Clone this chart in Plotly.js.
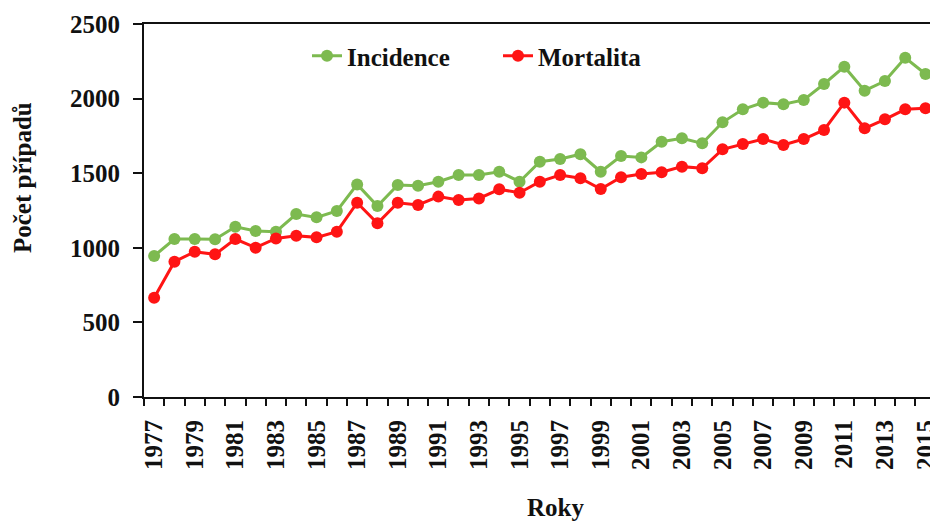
<!DOCTYPE html>
<html>
<head>
<meta charset="utf-8">
<script src="https://cdn.plot.ly/plotly-3.0.1.min.js"></script>
<style>
html, body { margin: 0; padding: 0; overflow: hidden; background: #fff; }
#chart { width: 930px; height: 521px; }
</style>
</head>
<body>
<div id="chart"></div>
<script>
// Data
const years = [1977,1978,1979,1980,1981,1982,1983,1984,1985,1986,1987,1988,1989,1990,1991,1992,1993,1994,1995,1996,1997,1998,1999,2000,2001,2002,2003,2004,2005,2006,2007,2008,2009,2010,2011,2012,2013,2014,2015];
const incidence = [945,1059,1059,1057,1141,1113,1108,1226,1204,1247,1425,1280,1421,1416,1443,1488,1488,1510,1443,1577,1595,1627,1510,1615,1606,1711,1734,1700,1841,1928,1973,1962,1991,2098,2214,2053,2118,2274,2165];
const mortalita = [665,907,974,956,1059,1001,1063,1081,1070,1108,1302,1164,1302,1287,1343,1320,1331,1392,1369,1443,1488,1466,1394,1473,1495,1506,1544,1533,1660,1696,1729,1689,1729,1790,1973,1801,1861,1928,1935];
const xTickYears = [1977,1979,1981,1983,1985,1987,1989,1991,1993,1995,1997,1999,2001,2003,2005,2007,2009,2011,2013,2015];
const seriesNames = ['Incidence', 'Mortalita'];
const yTitle = 'Počet případů';
const xTitle = 'Roky';

const GREEN = 'rgb(125,186,80)';
const RED = 'rgb(255,20,20)';
const FONT = 'Liberation Serif, Times New Roman, serif';

const W = 930, H = 521;
const L = 144, R = 0, T = 24, B = 124;
const pw = W - L - R, ph = H - T - B;
const px = x => (x - L) / pw;
const py = y => (H - B - y) / ph;

const traces = [
  { x: years, y: incidence, name: seriesNames[0], type: 'scatter', mode: 'lines+markers',
    line: { color: GREEN, width: 3 }, marker: { color: GREEN, size: 12 } },
  { x: years, y: mortalita, name: seriesNames[1], type: 'scatter', mode: 'lines+markers',
    line: { color: RED, width: 3 }, marker: { color: RED, size: 12 } }
];

const layout = {
  width: W, height: H,
  margin: { l: L, r: R, t: T, b: B, pad: 0 },
  paper_bgcolor: '#fff', plot_bgcolor: '#fff',
  font: { family: FONT, size: 25, color: '#111', weight: 'bold' },
  showlegend: true,
  legend: {
    orientation: 'h', x: px(307), y: py(56), xanchor: 'left', yanchor: 'middle',
    font: { family: FONT, size: 25, color: '#111', weight: 'bold' },
    bgcolor: 'rgba(0,0,0,0)', entrywidth: 146, entrywidthmode: 'pixels'
  },
  xaxis: {
    type: 'linear', range: [1976.5, 2015.22], showgrid: false, zeroline: false,
    showline: true, linecolor: '#111', linewidth: 2, mirror: true,
    tickmode: 'array', tickvals: xTickYears, ticktext: xTickYears.map(String),
    ticks: 'outside', ticklen: 7, tickcolor: 'rgba(0,0,0,0)', tickangle: -90,
    ticklabelstandoff: 4, ticklabeloverflow: 'allow',
    tickfont: { family: FONT, size: 25, color: '#111', weight: 'bold' },
    minor: { tick0: 1976.5, dtick: 1, ticks: 'outside', ticklen: 7, tickcolor: '#111', tickwidth: 2, showgrid: false }
  },
  yaxis: {
    range: [0, 2500], dtick: 500, tick0: 0, showgrid: false, zeroline: false,
    showline: true, linecolor: '#111', linewidth: 2,
    ticks: 'outside', ticklen: 9, tickwidth: 2, tickcolor: '#111',
    ticklabelstandoff: 8,
    tickfont: { family: FONT, size: 25, color: '#111', weight: 'bold' }
  },
  annotations: [
    { text: yTitle, xref: 'paper', yref: 'paper', x: px(22), y: py(178), textangle: -90,
      showarrow: false, xanchor: 'center', yanchor: 'middle',
      font: { family: FONT, size: 25, color: '#111', weight: 'bold' } },
    { text: xTitle, xref: 'paper', yref: 'paper', x: px(555), y: py(492),
      showarrow: false, xanchor: 'center', yanchor: 'top',
      font: { family: FONT, size: 25, color: '#111', weight: 'bold' } }
  ]
};

Plotly.newPlot('chart', traces, layout, { staticPlot: true, displayModeBar: false });
</script>
</body>
</html>
